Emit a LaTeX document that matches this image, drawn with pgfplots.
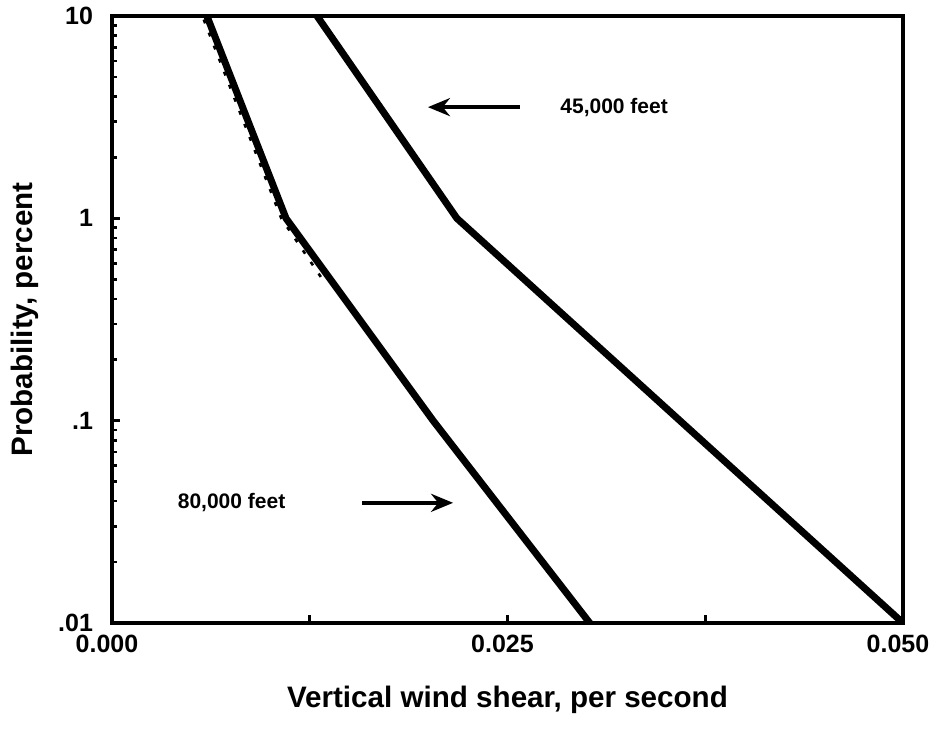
\documentclass[border=0pt]{standalone}
\usepackage{fontspec}
\setmainfont{Liberation Sans}
\usepackage{pgfplots}
\pgfplotsset{compat=1.18}
\usetikzlibrary{arrows.meta}

\begin{document}
\begin{tikzpicture}
\begin{axis}[
    name=main,
    scale only axis,
    width=395.5pt, height=303.5pt,
    xmin=0, xmax=0.05,
    ymode=log, ymin=0.01, ymax=10,
    axis line style={line width=1.8pt},
    tick align=inside,
    xtick pos=bottom, ytick pos=left,
    xtick={0,0.0125,0.025,0.0375,0.05},
    xticklabels={0.000,,0.025,,0.050},
    scaled x ticks=false,
    ytick={0.01,0.1,1,10},
    yticklabels={.01,.1,1,10},
    major tick length=4pt,
    minor tick length=2.5pt,
    every tick/.style={line width=1.3pt, black},
    /pgf/number format/assume math mode=true,
    tick label style={font=\fontsize{12.5}{14}\selectfont\bfseries},
    xticklabel style={yshift=-2.5pt, xshift=-2.5pt},
    yticklabel style={xshift=-6pt},
    xlabel={Vertical wind shear, per second},
    ylabel={Probability, percent},
    label style={font=\fontsize{14.8}{17}\selectfont\bfseries},
    xlabel style={yshift=-10pt},
    ylabel style={yshift=3pt},
]
% 45,000 feet
\addplot[black, line width=3.5pt, line join=round] coordinates {
    (0.01296,10) (0.0218,1) (0.0500,0.01)
};
% 80,000 feet
\addplot[black, line width=3.5pt, line join=round] coordinates {
    (0.0060,10) (0.0110,1) (0.0203,0.1) (0.0302,0.01)
};
% faint dashed trace beside the 80,000 ft curve
\addplot[black, line width=1.3pt, dash pattern=on 2pt off 5pt] coordinates {
    (0.0058,9.6) (0.0107,1) (0.0133,0.5)
};

\draw[line width=1.8pt, -{Stealth[length=11pt, width=9pt]}]
    (axis cs:0.02579,3.545) -- (axis cs:0.01997,3.545);
\node[anchor=west, font=\fontsize{10.5}{12}\selectfont\bfseries]
    at (axis cs:0.02790,3.545) {45,000 feet};

\draw[line width=1.8pt, -{Stealth[length=11pt, width=9pt]}]
    (axis cs:0.0158,0.03926) -- (axis cs:0.02156,0.03926);
\node[anchor=east, font=\fontsize{10.5}{12}\selectfont\bfseries]
    at (axis cs:0.01140,0.03926) {80,000 feet};
\end{axis}
\pgfresetboundingbox
\path (main.south west) ++(-56pt,-54.5pt) rectangle ++(465pt,366pt);
\end{tikzpicture}
\end{document}
